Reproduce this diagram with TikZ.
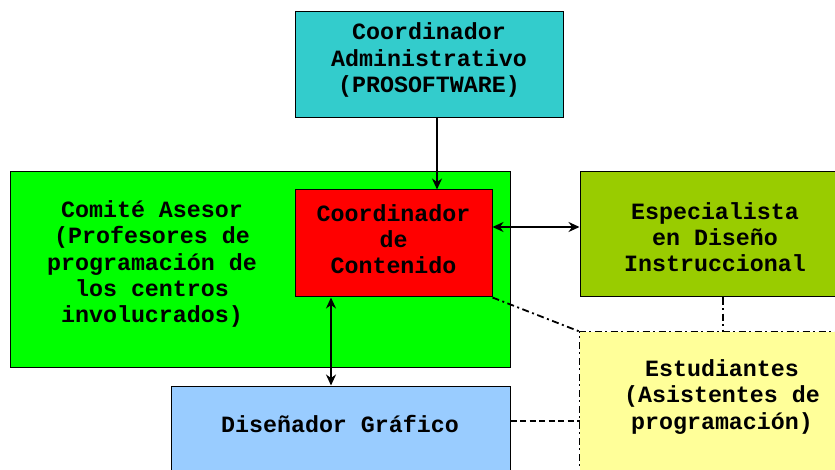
\documentclass[tikz,border=0pt]{standalone}
\usepackage{fontspec}
\setmainfont{Liberation Mono}
\usetikzlibrary{arrows.meta}
\tikzset{
  box/.style={draw=black, line width=1pt, align=center, inner sep=0pt,
    font=\fontsize{23.3pt}{26.3pt}\selectfont\bfseries},
  arr/.style={line width=2pt, -{Stealth[length=11pt,width=10pt]}},
  darr/.style={line width=2pt, {Stealth[length=11pt,width=10pt]}-{Stealth[length=11pt,width=10pt]}},
  dashdot/.style={line width=1.8pt, dash pattern=on 7pt off 3.5pt on 2pt off 3.5pt},
  dash2/.style={line width=1.8pt, dash pattern=on 6pt off 3.5pt},
}
\definecolor{cteal}{HTML}{33CCCC}
\definecolor{cgreen}{HTML}{00FF00}
\definecolor{cred}{HTML}{FF0000}
\definecolor{colive}{HTML}{99CC00}
\definecolor{cyellow}{HTML}{FFFF99}
\definecolor{cblue}{HTML}{99CCFF}
\begin{document}
\begin{tikzpicture}[x=1pt,y=-1pt]
\useasboundingbox (0,0) rectangle (835,470);
\clip (0,0) rectangle (835,470);
% boxes
\node[box, fill=cteal, minimum width=268pt, minimum height=106pt] (admin) at (429,65) {};
\node[box, fill=cgreen, minimum width=500pt, minimum height=195pt] (comite) at (260,269.5) {};
\node[box, fill=cred, minimum width=197pt, minimum height=107pt] (cont) at (393.5,243.5) {};
\node[box, fill=colive, minimum width=270pt, minimum height=125pt] (esp) at (715,234.5) {};
\node[box, fill=cyellow, draw=none, minimum width=300pt, minimum height=160pt] (est) at (730,412) {};
\node[box, fill=cblue, minimum width=339pt, minimum height=110pt] (dis) at (340.5,441) {};
% yellow box dash-dot borders
\draw[dashdot] (est.south west) -- (est.north west) -- (est.north east);
% texts
\node[box, draw=none] (tadmin) at (429,60) {Coordinador\\Administrativo\\(PROSOFTWARE)};
\node[box, draw=none] (tcomite) at (152,264) {Comité Asesor\\(Profesores de\\programación de\\los centros\\involucrados)};
\node[box, draw=none] (tcont) at (393.5,239) {Coordinador\\de\\Contenido};
\node[box, draw=none] (tesp) at (715,237) {Especialista\\en Diseño\\Instruccional};
\node[box, draw=none] (test) at (722,397) {Estudiantes\\(Asistentes de\\programación)};
\node[box, draw=none] (tdis) at (340,424) {Diseñador Gráfico};
% connectors
\draw[arr] (admin.south -| 437,0) -- (cont.north -| 437,0);
\draw[darr] (cont.east |- 0,227) -- (esp.west |- 0,227);
\draw[darr] (cont.south -| 331,0) -- (dis.north -| 331,0);
\draw[dashdot] (cont.south east) -- (est.north west);
\draw[dashdot] (esp.south -| 723,0) -- (est.north -| 723,0);
\draw[dash2] (dis.east |- 0,421) -- (est.west |- 0,421);
\end{tikzpicture}
\end{document}
